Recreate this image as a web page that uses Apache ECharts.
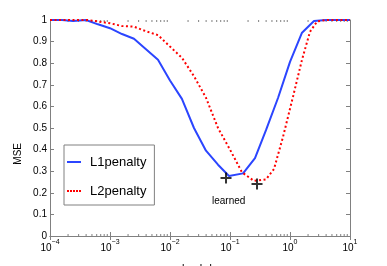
<!DOCTYPE html>
<html><head><meta charset="utf-8">
<script src="https://cdn.jsdelivr.net/npm/echarts@6/dist/echarts.min.js"></script>
<style>html,body{margin:0;padding:0;background:#fff}#c{width:387px;height:266px}</style>
</head><body><div id="c"></div>
<script>
var l1X = [1e-4, 1.585e-4, 2.42e-4, 3.98e-4, 6.31e-4, 1e-3, 1.585e-3, 2.51e-3, 3.98e-3, 6.31e-3, 0.01, 0.0158, 0.0251, 0.0398, 0.0631, 0.0962, 0.165, 0.261, 0.398, 0.631, 1.0, 1.585, 2.51, 3.98, 10];
var l1Y = [1, 1, 0.995, 1, 0.98, 0.962, 0.935, 0.913, 0.865, 0.816, 0.72, 0.635, 0.5, 0.395, 0.33, 0.278, 0.29, 0.361, 0.49, 0.639, 0.806, 0.941, 0.995, 1, 1];
var l2X = [1e-4, 4.3e-4, 6.31e-4, 1e-3, 1.585e-3, 2.51e-3, 3.98e-3, 6.31e-3, 0.01, 0.0158, 0.0251, 0.0398, 0.0631, 0.1, 0.158, 0.251, 0.398, 0.541, 0.765, 1.12, 1.585, 2.15, 2.82, 3.98, 10];
var l2Y = [1, 1, 0.993, 0.985, 0.972, 0.969, 0.948, 0.93, 0.877, 0.825, 0.74, 0.64, 0.5, 0.4, 0.295, 0.255, 0.262, 0.31, 0.459, 0.644, 0.816, 0.945, 0.993, 1, 1];
var learnedX = [0.0858, 0.282];
var learnedY = [0.269, 0.241];
var seriesNames = ['L1penalty', 'L2penalty'];

var minorTicks = [];
for (var e = -4; e < 1; e++) for (var m = 2; m <= 9; m++) minorTicks.push(m * Math.pow(10, e));

function zip(a, b) { return a.map(function (v, i) { return [v, b[i]]; }); }

var chart = echarts.init(document.getElementById('c'));
var font = 'Liberation Sans, Arial, sans-serif';
var frame = '#808080';
var blue = '#2b45ff', red = '#ff0000';
chart.setOption({
  animation: false,
  textStyle: { fontFamily: font },
  grid: { left: 50, right: 37, top: 20, bottom: 30, containLabel: false, outerBoundsMode: 'none' },
  legend: {
    data: [
      { name: seriesNames[0], icon: 'path://M0,0H14V2H0Z', itemStyle: { color: blue } },
      { name: seriesNames[1], icon: 'path://M0,0H2V2H0Z M3,0H5V2H3Z M6,0H8V2H6Z M9,0H11V2H9Z M12,0H14V2H12Z', itemStyle: { color: red } }
    ],
    orient: 'vertical', left: 64, top: 145,
    padding: [9, 8, 6, 3], itemGap: 13, itemWidth: 14, itemHeight: 2,
    borderColor: frame, borderWidth: 1, backgroundColor: '#fff',
    textStyle: { fontSize: 13, color: '#000', fontFamily: font, padding: [0, 0, 0, 4], lineHeight: 16 },
    z: 10
  },
  xAxis: [{
    type: 'log', logBase: 10, min: 1e-4, max: 10, position: 'bottom',
    axisLine: { lineStyle: { color: frame } },
    axisTick: { inside: true, length: 4, lineStyle: { color: frame } },
    splitLine: { show: false },
    axisLabel: {
      margin: 3,
      formatter: function (v) {
        var ex = Math.round(Math.log10(v));
        return '{b|10}{s|' + (ex < 0 ? '\u2212' : '') + Math.abs(ex) + '}';
      },
      rich: {
        b: { fontSize: 10, color: '#000', fontFamily: font, verticalAlign: 'bottom', lineHeight: 14 },
        s: { fontSize: 7, color: '#000', fontFamily: font, verticalAlign: 'top', lineHeight: 14 }
      }
    },
    name: 'lambda', nameLocation: 'middle', nameGap: 27,
    nameTextStyle: { fontSize: 11, color: '#000', verticalAlign: 'top' }
  }, {
    type: 'log', logBase: 10, min: 1e-4, max: 10, position: 'top',
    axisLine: { lineStyle: { color: frame } },
    axisTick: { inside: true, length: 4, lineStyle: { color: frame } },
    axisLabel: { show: false }, splitLine: { show: false }
  }],
  yAxis: [{
    type: 'value', min: 0, max: 1, interval: 0.1, position: 'left',
    axisLine: { show: true, lineStyle: { color: frame } },
    axisTick: { show: true, inside: true, length: 4, lineStyle: { color: frame } },
    splitLine: { show: false },
    axisLabel: { fontSize: 10, color: '#000', margin: 3, fontFamily: font }
  }, {
    type: 'value', min: 0, max: 1, interval: 0.1, position: 'right',
    axisLine: { show: true, lineStyle: { color: frame } },
    axisTick: { show: true, inside: true, length: 4, lineStyle: { color: frame } },
    splitLine: { show: false }, axisLabel: { show: false }
  }],
  graphic: [
    { type: 'text', left: 13, top: 143, rotation: Math.PI / 2,
      style: { text: 'MSE', fontSize: 10, fill: '#000', fontFamily: font } },
    { type: 'text', left: 212, top: 196,
      style: { text: 'learned', fontSize: 10, fill: '#000', fontFamily: font } }
  ],
  series: [{
    name: seriesNames[0], type: 'line', data: zip(l1X, l1Y), symbol: 'none',
    lineStyle: { color: blue, width: 2 }, itemStyle: { color: blue }, z: 3
  }, {
    name: seriesNames[1], type: 'line', data: zip(l2X, l2Y), symbol: 'none',
    lineStyle: { color: red, width: 2, type: [2, 2.5] }, itemStyle: { color: red }, z: 3
  }, {
    type: 'scatter', data: zip(learnedX, learnedY), z: 5,
    symbol: 'path://M0,4.5 H11 V6.5 H0 Z M4.5,0 H6.5 V11 H4.5 Z', symbolSize: 11,
    itemStyle: { color: '#000' }, silent: true
  }, {
    type: 'custom', data: minorTicks.map(function (v) { return [v]; }), silent: true, z: 2,
    renderItem: function (params, api) {
      var v = api.value(0);
      var b = api.coord([v, 0]);
      var t = api.coord([v, 1]);
      var st = { stroke: frame, lineWidth: 1 };
      return { type: 'group', children: [
        { type: 'line', shape: { x1: b[0], y1: b[1], x2: b[0], y2: b[1] - 2 }, style: st },
        { type: 'line', shape: { x1: t[0], y1: t[1], x2: t[0], y2: t[1] + 2 }, style: st }
      ] };
    }
  }]
});
</script></body></html>
